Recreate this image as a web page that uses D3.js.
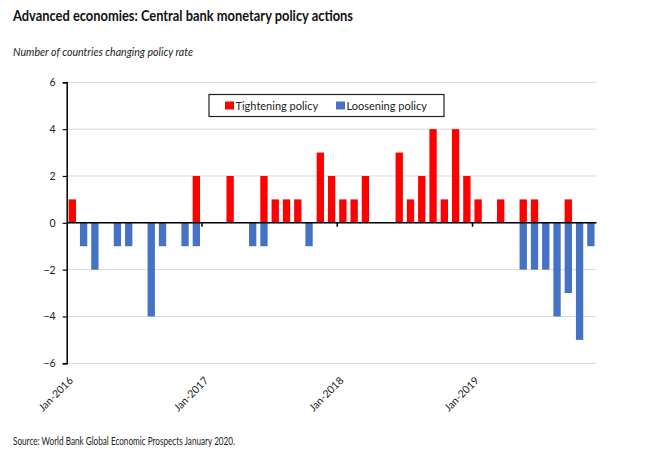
<!DOCTYPE html>
<html>
<head>
<meta charset="utf-8">
<script src="https://cdn.jsdelivr.net/npm/d3@7"></script>
<style>
  body { margin: 0; background: #fff; }
  svg { display: block; font-family: Lato, "Open Sans", sans-serif; }
</style>
</head>
<body>
<script>
// monthly categories, Jan-2016 .. Nov-2019
const months = d3.timeMonths(new Date(2016, 0, 1), new Date(2019, 11, 1));

// number of countries raising the policy rate
const tightening = [1,0,0,0,0,0,0,0,0,0,0,2,
                    0,0,2,0,0,2,1,1,1,0,3,2,
                    1,1,2,0,0,3,1,2,4,1,4,2,
                    1,0,1,0,1,1,0,0,1,0,0];
// number of countries cutting the policy rate
const loosening = [0,-1,-2,0,-1,-1,0,-4,-1,0,-1,-1,
                   0,0,0,0,-1,-1,0,0,0,-1,0,0,
                   0,0,0,0,0,0,0,0,0,0,0,0,
                   0,0,0,0,-2,-2,-2,-4,-3,-5,-1];

const yTicks = [-6, -4, -2, 0, 2, 4, 6];
const seriesNames = ['Tightening policy', 'Loosening policy'];
const colors = ['#ff0000', '#4472c4'];

const width = 650, height = 455;
const mLeft = 66.7, mRight = 596.5, mTop = 82.3, mBottom = 363.3;

const svg = d3.select('body').append('svg')
    .attr('width', width)
    .attr('height', height);

const fmt = d3.timeFormat('%b-%Y');

const x = d3.scaleBand()
    .domain(months)
    .range([mLeft, mRight])
    .paddingInner(0.35)
    .paddingOuter(0.175);

const y = d3.scaleLinear()
    .domain([-6, 6])
    .range([mBottom, mTop]);

// titles (reference font is narrow, so squeeze to its width)
svg.append('text')
    .attr('x', 13).attr('y', 21)
    .attr('font-size', 15.5)
    .attr('font-weight', 'bold')
    .attr('fill', '#111')
    .attr('textLength', 340)
    .attr('lengthAdjust', 'spacingAndGlyphs')
    .text('Advanced economies: Central bank monetary policy actions');

svg.append('text')
    .attr('x', 13).attr('y', 56)
    .attr('font-size', 11.5)
    .attr('font-style', 'italic')
    .attr('fill', '#222')
    .attr('textLength', 180)
    .attr('lengthAdjust', 'spacingAndGlyphs')
    .text('Number of countries changing policy rate');

svg.append('text')
    .attr('x', 13).attr('y', 445)
    .attr('font-size', 10.5)
    .attr('fill', '#222')
    .attr('textLength', 222)
    .attr('lengthAdjust', 'spacingAndGlyphs')
    .text('Source: World Bank Global Economic Prospects January 2020.');

// gridlines
svg.append('g')
    .selectAll('line')
    .data(yTicks)
    .join('line')
    .attr('x1', mLeft).attr('x2', mRight)
    .attr('y1', d => y(d)).attr('y2', d => y(d))
    .attr('stroke', '#d9d9d9')
    .attr('stroke-width', 1);

// bars
const bars = svg.append('g');
bars.selectAll('rect.up')
    .data(months.map((m, i) => ({m, v: tightening[i]})).filter(d => d.v !== 0))
    .join('rect')
    .attr('class', 'up')
    .attr('x', d => x(d.m))
    .attr('width', x.bandwidth())
    .attr('y', d => y(d.v))
    .attr('height', d => y(0) - y(d.v))
    .attr('fill', colors[0]);

bars.selectAll('rect.down')
    .data(months.map((m, i) => ({m, v: loosening[i]})).filter(d => d.v !== 0))
    .join('rect')
    .attr('class', 'down')
    .attr('x', d => x(d.m))
    .attr('width', x.bandwidth())
    .attr('y', y(0))
    .attr('height', d => y(d.v) - y(0))
    .attr('fill', colors[1]);

// y axis
const yAxis = svg.append('g')
    .attr('transform', `translate(${mLeft},0)`)
    .call(d3.axisLeft(y).tickValues(yTicks).tickSize(4).tickPadding(7).tickFormat(d3.format('d')));
yAxis.select('.domain').attr('stroke', '#000').attr('stroke-width', 1.5);
yAxis.selectAll('.tick line').attr('stroke', '#000').attr('stroke-width', 1.2);
yAxis.selectAll('.tick text')
    .attr('font-size', 10.5)
    .attr('font-family', 'Lato, sans-serif')
    .attr('fill', '#222');

// zero line with year ticks
const half = x.step() * x.paddingInner() / 2;
const janMonths = months.filter(m => m.getMonth() === 0);

svg.append('line')
    .attr('x1', mLeft).attr('x2', mRight)
    .attr('y1', y(0)).attr('y2', y(0))
    .attr('stroke', '#000')
    .attr('stroke-width', 1.5);

svg.append('g')
    .selectAll('line')
    .data(janMonths.slice(1))
    .join('line')
    .attr('x1', d => x(d) - half).attr('x2', d => x(d) - half)
    .attr('y1', y(0)).attr('y2', y(0) + 4)
    .attr('stroke', '#000')
    .attr('stroke-width', 1.5);

// year labels below plot
svg.append('g')
    .selectAll('text')
    .data(janMonths)
    .join('text')
    .attr('transform', d => `translate(${x(d) - half + 7},${mBottom + 18}) rotate(-45)`)
    .attr('text-anchor', 'end')
    .attr('font-size', 10.5)
    .attr('fill', '#222')
    .text(d => fmt(d));

// legend
const lg = svg.append('g');
lg.append('rect')
    .attr('x', 209).attr('y', 94.5)
    .attr('width', 235).attr('height', 22)
    .attr('fill', '#fff')
    .attr('stroke', '#222')
    .attr('stroke-width', 1.2);

const items = lg.selectAll('g.item')
    .data(seriesNames)
    .join('g')
    .attr('class', 'item')
    .attr('transform', (d, i) => `translate(${i === 0 ? 225 : 336},0)`);

items.append('rect')
    .attr('x', 0).attr('y', 101.5)
    .attr('width', 9).attr('height', 8)
    .attr('fill', (d, i) => colors[i]);

items.append('text')
    .attr('x', 10.5).attr('y', 109.5)
    .attr('font-size', 11)
    .attr('fill', '#222')
    .text(d => d);
</script>
</body>
</html>
